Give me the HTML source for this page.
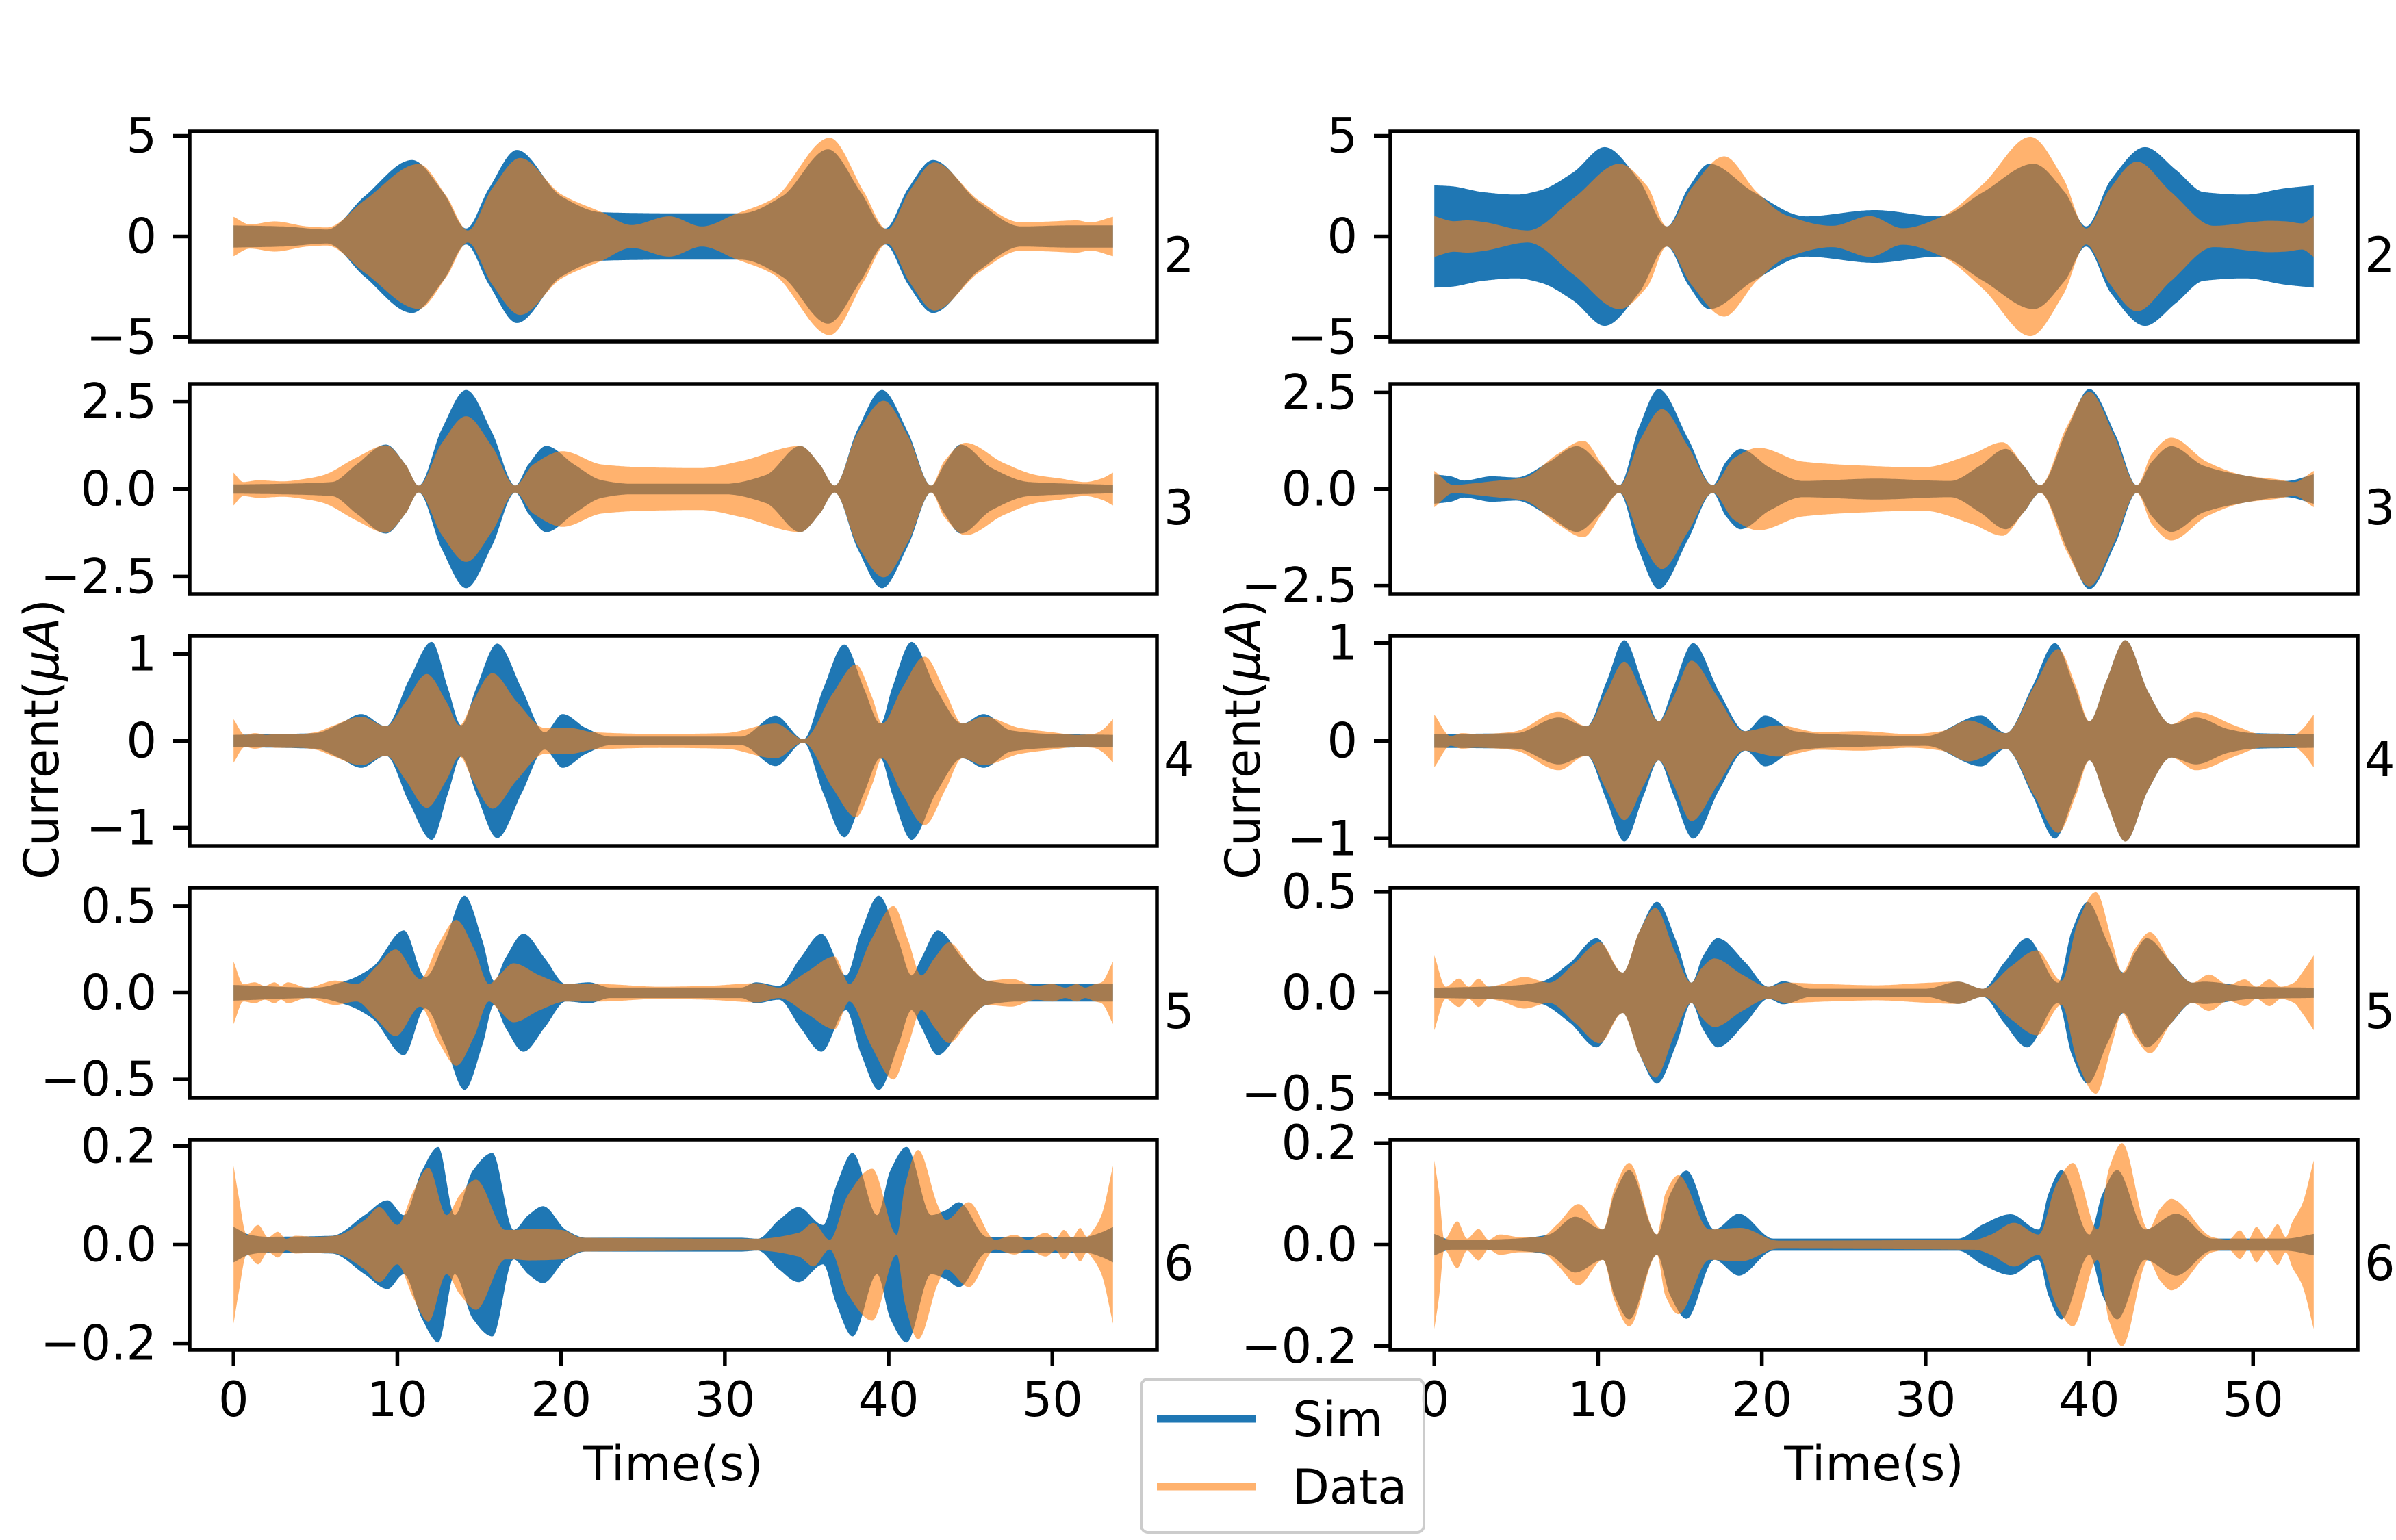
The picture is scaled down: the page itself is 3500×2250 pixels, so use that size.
<!DOCTYPE html>
<html><head><meta charset="utf-8">
<style>
html,body{margin:0;padding:0;background:#fff;}
svg{display:block;font-family:"DejaVu Sans","Liberation Sans",sans-serif;}
</style></head>
<body>
<svg id="fig" xmlns="http://www.w3.org/2000/svg" width="3500" height="2250" viewBox="0 0 3500 2250">
<rect width="3500" height="2250" fill="#fff"/>
</svg>
<script>
// ---- data: envelope knots [time(s), amplitude] ----
const simL1=[[0,0.55],[3,0.5],[5.7,0.35],[8,2.0],[10.9,3.8],[12.8,2.2],[14.2,0.4],[15.6,2.4],[17.3,4.3],[20,2.0],[22.5,1.2],[26.6,1.15],[31,1.15],[33.5,2.0],[36.3,4.33],[38.3,2.2],[39.8,0.4],[41.2,2.4],[42.7,3.8],[45.5,1.7],[48.1,0.5],[51,0.55],[53.7,0.55]];
const datL1=[[0,0.98],[1,0.6],[2.5,0.75],[4.5,0.5],[5.7,0.45],[8,1.8],[11.3,3.6],[13,2.0],[14.3,0.3],[15.8,2.4],[17.5,3.9],[20,2.1],[22.5,1.2],[24.3,0.57],[26.6,1.0],[28.6,0.5],[30.6,1.1],[33,1.9],[36.4,4.9],[38.5,2.2],[39.9,0.35],[41.3,2.3],[42.8,3.68],[45.5,1.8],[48.1,0.7],[50,0.75],[51.5,0.8],[52.3,0.7],[53.7,0.98]];
const simL2=[[0,0.13],[3,0.15],[6,0.2],[7.5,0.7],[9.3,1.27],[10.5,0.7],[11.3,0.1],[12.7,1.7],[14.2,2.83],[15.8,1.6],[17.2,0.1],[18,0.7],[19.1,1.23],[20.8,0.7],[22.5,0.25],[24.3,0.15],[30,0.15],[32.5,0.4],[34.6,1.23],[35.8,0.7],[36.7,0.1],[38.1,1.7],[39.6,2.83],[41.2,1.6],[42.6,0.1],[43.4,0.7],[44.4,1.27],[46.3,0.6],[48.6,0.2],[53.7,0.12]];
const datL2=[[0,0.47],[0.6,0.2],[1.5,0.25],[3,0.22],[4.5,0.3],[5.5,0.4],[7.5,0.9],[9.3,1.25],[10.5,0.7],[11.3,0.1],[12.7,1.3],[14.2,2.08],[15.8,1.2],[17.2,0.1],[18.3,0.7],[20.1,1.08],[22.5,0.7],[25.2,0.62],[28.5,0.6],[31,0.8],[34.6,1.23],[35.8,0.7],[36.7,0.1],[38.1,1.6],[39.7,2.52],[41.2,1.5],[42.6,0.1],[43.4,0.8],[44.7,1.32],[47,0.75],[49,0.4],[50.5,0.3],[52,0.2],[53,0.3],[53.7,0.47]];
const simL3=[[0,0.07],[5,0.09],[6.5,0.2],[7.8,0.31],[9.3,0.17],[10.7,0.7],[12.1,1.14],[13.1,0.6],[13.9,0.18],[14.8,0.6],[16.1,1.12],[17.6,0.6],[19,0.1],[20.1,0.31],[21.5,0.15],[23,0.05],[31,0.05],[33.1,0.29],[34.8,0.02],[36,0.6],[37.3,1.11],[38.5,0.6],[39.5,0.2],[40.2,0.6],[41.4,1.14],[42.9,0.6],[44.5,0.2],[45.8,0.31],[47.5,0.12],[50,0.08],[53.7,0.07]];
const datL3=[[0,0.25],[0.7,0.07],[1.3,0.09],[2,0.07],[2.6,0.08],[4,0.08],[5,0.1],[6,0.17],[7.8,0.28],[9.3,0.17],[10.5,0.45],[11.8,0.77],[13,0.45],[13.8,0.18],[14.6,0.45],[15.8,0.78],[17.3,0.45],[19,0.15],[20.5,0.15],[22,0.1],[26,0.08],[30,0.09],[33.1,0.2],[34.8,0.02],[36.6,0.55],[38,0.88],[39,0.5],[39.6,0.2],[40.8,0.6],[42.2,0.97],[43.5,0.55],[44.5,0.2],[45.8,0.28],[48,0.15],[50,0.1],[51.5,0.07],[52.5,0.08],[53,0.12],[53.7,0.25]];
const simL4=[[0,0.045],[5,0.03],[6.9,0.07],[8.5,0.15],[10.4,0.36],[11.7,0.09],[12.9,0.3],[14.1,0.56],[15.2,0.3],[15.9,0.07],[16.6,0.2],[17.7,0.34],[19,0.2],[20.3,0.05],[21.7,0.06],[23,0.03],[31,0.03],[31.9,0.06],[33.3,0.04],[34.6,0.2],[35.9,0.34],[37.4,0.1],[38.3,0.35],[39.4,0.56],[40.6,0.3],[41.4,0.1],[42,0.2],[43,0.36],[44.5,0.2],[46,0.07],[48,0.05],[53.7,0.05]];
const datL4=[[0,0.18],[0.6,0.05],[1.3,0.06],[1.9,0.04],[2.5,0.06],[2.9,0.04],[3.3,0.06],[4.5,0.03],[6.2,0.07],[7.5,0.05],[8.7,0.15],[9.9,0.25],[11.4,0.08],[12.5,0.28],[13.6,0.42],[14.7,0.25],[15.6,0.05],[16.2,0.1],[17.1,0.17],[18.7,0.1],[20.3,0.05],[22.4,0.05],[26,0.035],[29,0.04],[32,0.055],[33.3,0.03],[35,0.12],[36.7,0.21],[37.6,0.05],[38.9,0.3],[40.3,0.5],[41.2,0.3],[42,0.1],[42.8,0.2],[43.7,0.29],[45,0.15],[46,0.07],[47.5,0.08],[49,0.04],[50,0.05],[50.8,0.03],[51.5,0.05],[52,0.03],[52.6,0.05],[53,0.06],[53.7,0.18]];
const simL5=[[0,0.036],[1,0.02],[2,0.016],[6,0.018],[8,0.06],[9.4,0.09],[10.4,0.06],[11.5,0.15],[12.5,0.198],[13.5,0.06],[14.6,0.15],[15.8,0.186],[17.1,0.03],[18,0.06],[18.9,0.078],[20.3,0.03],[21.5,0.014],[31,0.014],[32,0.012],[33.3,0.05],[34.5,0.076],[36,0.04],[36.8,0.12],[37.8,0.186],[39.3,0.06],[40.1,0.15],[41.1,0.198],[42.6,0.06],[43.5,0.07],[44.3,0.086],[46,0.016],[52,0.016],[53,0.025],[53.7,0.036]];
const datL5=[[0,0.16],[0.3,0.1],[0.8,0.02],[1.5,0.04],[2.1,0.015],[2.7,0.026],[3.2,0.012],[3.8,0.018],[5,0.016],[6.2,0.018],[8,0.05],[8.9,0.076],[10,0.04],[11,0.11],[11.9,0.156],[13,0.06],[13.8,0.1],[14.8,0.132],[16.6,0.03],[17.2,0.03],[18,0.032],[20,0.03],[21.3,0.014],[32,0.012],[34.5,0.024],[35.4,0.044],[36.4,0.01],[37.5,0.1],[39,0.154],[40.5,0.02],[41,0.12],[41.8,0.192],[43,0.08],[43.5,0.05],[44.9,0.086],[46.5,0.01],[47.7,0.02],[48.5,0.01],[49.6,0.024],[50.2,0.012],[50.7,0.03],[51.2,0.014],[51.7,0.034],[52.1,0.016],[52.5,0.03],[53,0.06],[53.7,0.16]];
const simR1=[[0,2.54],[1,2.5],[3,2.2],[5,2.08],[6.5,2.3],[8.5,3.2],[10.4,4.44],[12.5,2.8],[14.2,0.5],[15.5,2.4],[16.8,3.61],[19.5,2.2],[22.7,1.0],[26.9,1.31],[30.8,1.0],[33.5,2.2],[36.6,3.61],[38.5,2.2],[39.8,0.5],[41.3,2.8],[43.4,4.44],[45.3,3.3],[47,2.2],[49.5,2.08],[52,2.4],[53.7,2.54]];
const datR1=[[0,1.01],[1.2,0.76],[2,0.8],[3,0.72],[5.7,0.3],[8.5,1.9],[11.3,3.61],[13,2.5],[14.2,0.5],[15.7,2.4],[17.7,3.98],[19.7,2.2],[21.5,1.05],[24.3,0.53],[26.6,1.01],[28.6,0.41],[31,0.99],[33.5,2.6],[36.4,4.95],[38.4,2.9],[39.8,0.4],[41.2,2.3],[42.9,3.72],[45,2.2],[47.6,0.53],[50,0.72],[51,0.78],[52,0.75],[53,0.65],[53.7,1.01]];
const simR2=[[0,0.38],[1,0.33],[1.8,0.22],[3.5,0.33],[5,0.3],[7,0.7],[8.7,1.11],[10.2,0.6],[11.3,0.1],[12.5,1.6],[13.7,2.59],[15.5,1.3],[17,0.1],[17.8,0.7],[18.7,1.04],[20.5,0.55],[22.5,0.21],[27,0.27],[31.5,0.21],[33.3,0.6],[34.9,1.04],[36,0.6],[37,0.1],[38.7,1.6],[40,2.59],[41.6,1.4],[42.9,0.1],[43.8,0.7],[45,1.11],[47,0.6],[49.5,0.35],[52,0.21],[53.7,0.38]];
const datR2=[[0,0.47],[1.2,0.1],[2,0.13],[3.5,0.2],[5.5,0.3],[7.5,0.9],[9.1,1.25],[10.3,0.6],[11.3,0.1],[12.6,1.3],[13.9,2.07],[15.5,1.1],[17,0.1],[18.3,0.8],[19.8,1.07],[22.5,0.71],[26,0.61],[29.8,0.56],[32.8,0.9],[34.7,1.21],[36,0.6],[37,0.1],[38.6,1.6],[40,2.52],[41.5,1.4],[42.9,0.1],[43.8,0.9],[45,1.33],[47.2,0.7],[49.5,0.35],[51.5,0.25],[52.5,0.18],[53.7,0.47]];
const simR3=[[0,0.07],[5,0.08],[7.6,0.24],[9.3,0.15],[10.5,0.6],[11.6,1.03],[12.8,0.55],[13.7,0.2],[14.6,0.55],[15.8,1.0],[17.4,0.5],[19,0.1],[20.2,0.26],[22,0.1],[24,0.07],[30,0.05],[33.4,0.26],[34.9,0.08],[36.5,0.55],[37.9,1.0],[39.1,0.55],[40,0.2],[41,0.6],[42.2,1.03],[43.6,0.5],[45,0.17],[46.5,0.24],[48.5,0.12],[50,0.08],[53.7,0.07]];
const datR3=[[0,0.27],[1,0.05],[1.7,0.08],[2.5,0.07],[4,0.08],[5,0.1],[7.6,0.3],[9.3,0.15],[10.5,0.5],[11.6,0.81],[12.8,0.45],[13.7,0.2],[14.6,0.45],[15.7,0.82],[17.3,0.45],[18.9,0.1],[21,0.16],[23.5,0.09],[26,0.1],[29,0.07],[31,0.1],[32.6,0.21],[34.9,0.08],[36.6,0.55],[38.1,0.94],[39.2,0.55],[40,0.2],[41,0.6],[42.2,1.03],[43.6,0.5],[45,0.17],[46.5,0.3],[49,0.15],[50.5,0.07],[51.5,0.07],[52.5,0.06],[53,0.12],[53.7,0.27]];
const simR4=[[0,0.025],[3,0.03],[5,0.037],[6.5,0.054],[8.3,0.15],[9.9,0.27],[11.5,0.1],[12.5,0.3],[13.6,0.45],[14.8,0.25],[15.7,0.05],[16.4,0.18],[17.3,0.27],[19,0.15],[20.4,0.03],[21.3,0.057],[23,0.02],[30,0.02],[32,0.055],[33.5,0.02],[34.8,0.15],[36.2,0.27],[38.1,0.05],[38.9,0.3],[39.9,0.45],[41.1,0.25],[42.1,0.1],[42.8,0.2],[43.5,0.27],[45,0.15],[46.3,0.05],[47,0.055],[50,0.03],[53.7,0.025]];
const datR4=[[0,0.185],[0.7,0.03],[1.5,0.07],[2.1,0.03],[2.7,0.07],[3.3,0.03],[4,0.04],[5.5,0.078],[7,0.05],[8.6,0.15],[10.1,0.25],[11.5,0.1],[12.5,0.3],[13.5,0.42],[14.7,0.2],[15.7,0.05],[16.3,0.12],[17.1,0.17],[18.8,0.09],[20.4,0.03],[21.5,0.05],[24,0.043],[27,0.037],[30,0.049],[32,0.055],[33.5,0.02],[35.2,0.13],[36.8,0.21],[38.3,0.06],[39.3,0.35],[40.4,0.5],[41.4,0.25],[42,0.1],[42.8,0.22],[43.7,0.3],[45,0.15],[46.3,0.05],[47.3,0.09],[48.5,0.04],[49.5,0.066],[50.2,0.03],[51,0.066],[51.7,0.03],[52.5,0.05],[53,0.1],[53.7,0.185]];
const simR5=[[0,0.021],[1,0.01],[3,0.01],[5,0.012],[7,0.02],[8.6,0.055],[10.3,0.03],[11,0.1],[11.9,0.147],[13.6,0.02],[14.4,0.1],[15.4,0.146],[17.1,0.03],[18.6,0.061],[20.7,0.012],[32,0.012],[33.5,0.04],[35.2,0.06],[36.9,0.03],[37.5,0.1],[38.3,0.147],[40,0.02],[40.8,0.1],[41.7,0.147],[43.4,0.03],[45.3,0.061],[47.5,0.012],[52,0.012],[53.7,0.021]];
const datR5=[[0,0.166],[0.3,0.1],[0.6,0.01],[1.4,0.046],[2,0.012],[2.7,0.031],[3.3,0.01],[4,0.02],[5.2,0.015],[6.5,0.015],[7.5,0.04],[8.8,0.08],[10.3,0.03],[11,0.11],[11.9,0.161],[13.6,0.02],[14.1,0.1],[14.9,0.137],[16.8,0.03],[18.7,0.033],[21,0.008],[33,0.01],[34,0.02],[35.4,0.043],[36.9,0.02],[38,0.12],[39,0.161],[40.5,0.03],[41.2,0.15],[42,0.2],[43.6,0.03],[44.3,0.07],[45,0.09],[47.5,0.015],[48.5,0.01],[49.2,0.028],[49.7,0.01],[50.2,0.035],[50.8,0.012],[51.5,0.04],[52,0.015],[52.4,0.045],[53,0.08],[53.7,0.166]];

const harmonics=["2","3","4","5","6"];
const yLimLeft=[5.22,3.0,1.21,0.606,0.213];
const yLimRight=[5.22,2.72,1.075,0.52,0.207];
const yTickVals=[[5,0,-5],[2.5,0,-2.5],[1,0,-1],[0.5,0,-0.5],[0.2,0,-0.2]];
const yTickLabels=[["5","0","\u22125"],["2.5","0.0","\u22122.5"],["1","0","\u22121"],["0.5","0.0","\u22120.5"],["0.2","0.0","\u22120.2"]];
const xTickVals=[0,10,20,30,40,50];
const xTickLabels=["0","10","20","30","40","50"];
const simLeft=[simL1,simL2,simL3,simL4,simL5], datLeft=[datL1,datL2,datL3,datL4,datL5];
const simRight=[simR1,simR2,simR3,simR4,simR5], datRight=[datR1,datR2,datR3,datR4,datR5];

// ---- layout ----
const NS="http://www.w3.org/2000/svg";
const svg=document.getElementById('fig');
const rowTop=[192,561,929,1297,1665], rowH=307;
const colX=[277,2031], colW=[1413,1413];
const xMin=-2.685, xMax=56.385;
const FS=70;

function el(tag,attrs,parent){const e=document.createElementNS(NS,tag);for(const k in attrs)e.setAttribute(k,attrs[k]);(parent||svg).appendChild(e);return e;}

function monotone(knots){
  const n=knots.length, xs=knots.map(k=>k[0]), ys=knots.map(k=>k[1]);
  const d=[],m=[];
  for(let i=0;i<n-1;i++)d.push((ys[i+1]-ys[i])/(xs[i+1]-xs[i]));
  m[0]=d[0];m[n-1]=d[n-2];
  for(let i=1;i<n-1;i++){ if(d[i-1]*d[i]<=0)m[i]=0; else {m[i]=2/(1/d[i-1]+1/d[i]);} }
  return function(x){
    let i=0; while(i<n-2&&x>xs[i+1])i++;
    const h=xs[i+1]-xs[i], t=Math.min(1,Math.max(0,(x-xs[i])/h));
    const t2=t*t,t3=t2*t;
    return (2*t3-3*t2+1)*ys[i]+(t3-2*t2+t)*h*m[i]+(-2*t3+3*t2)*ys[i+1]+(t3-t2)*h*m[i+1];
  };
}

function drawPanel(col,row){
  const x0=colX[col], w=colW[col], y0=rowTop[row];
  const lim=(col===0?yLimLeft:yLimRight)[row];
  const sx=t=>x0+(t-xMin)/(xMax-xMin)*w;
  const sy=v=>y0+rowH/2-v/lim*(rowH/2);
  const g=el('g',{});
  
  
  const cid='clip'+col+row;
  const cp=el('clipPath',{id:cid},g); el('rect',{x:x0,y:y0,width:w,height:rowH},cp);
  const series=[[ (col===0?simLeft:simRight)[row],'#1f77b4',1,'sim'],[(col===0?datLeft:datRight)[row],'#ff7f0e',0.6,'data']];
  for(const [knots,color,op,nm] of series){
    const f=monotone(knots);
    const tEnd=knots[knots.length-1][0];
    const top=[],bot=[];
    for(let t=0;t<=tEnd+1e-9;t+=0.05){const a=Math.max(0,f(t));top.push(sx(t).toFixed(1)+','+sy(a).toFixed(1));bot.push(sx(t).toFixed(1)+','+sy(-a).toFixed(1));}
    const p=el('polygon',{points:top.concat(bot.reverse()).join(' '),fill:color,'fill-opacity':op,'clip-path':'url(#'+cid+')'},g);
    
    
  }
  const fr=el('rect',{x:x0,y:y0,width:w,height:rowH,fill:'none',stroke:'#000','stroke-width':5.5},g);
  
  
  yTickVals[row].forEach((v,i)=>{
    const yy=sy(v);
    el('line',{x1:x0-24,x2:x0,y1:yy,y2:yy,stroke:'#000','stroke-width':5.5},g);
    const tx=el('text',{x:x0-48,y:yy,'font-size':FS,'text-anchor':'end','dominant-baseline':'central'},g);
    tx.textContent=yTickLabels[row][i];
    
    
  });
  const hl=el('text',{x:x0+w+10,y:y0+205,'font-size':FS},g);
  hl.textContent=harmonics[row];
  
  
  if(row===4){
    xTickVals.forEach((v,i)=>{
      const xx=sx(v);
      el('line',{x1:xx,x2:xx,y1:y0+rowH,y2:y0+rowH+24,stroke:'#000','stroke-width':5.5},g);
      const tx=el('text',{x:xx,y:2069,'font-size':FS,'text-anchor':'middle'},g);
      tx.textContent=xTickLabels[i];
      
      
    });
    const xl=el('text',{x:x0+w/2,y:2163,'font-size':FS,'text-anchor':'middle'},g);
    xl.textContent='Time(s)';
    
    
  }
}
for(let c=0;c<2;c++)for(let r=0;r<5;r++)drawPanel(c,r);

[[85,'left'],[1840,'right']].forEach(([bx,side])=>{
  const t=el('text',{x:bx,y:1080,'font-size':FS,'text-anchor':'middle',transform:'rotate(-90 '+bx+' 1080)'});
  
  
  t.appendChild(document.createTextNode('Current('));
  const it=el('tspan',{'font-style':'italic'},t); it.textContent='\u03bcA';
  t.appendChild(document.createTextNode(')'));
});

// legend
const lg=el('g',{});


el('rect',{x:1667,y:2015,width:413,height:224,rx:10,fill:'#fff','fill-opacity':0.8,stroke:'#cccccc','stroke-width':4},lg);
[['Sim','#1f77b4',1,2073],['Data','#ff7f0e',0.6,2172]].forEach(([lab,c,op,y])=>{
  const ln=el('line',{x1:1690,x2:1835,y1:y,y2:y,stroke:c,'stroke-opacity':op,'stroke-width':11},lg);
  
  
  const tx=el('text',{x:1888,y:y+25,'font-size':FS},lg);
  tx.textContent=lab;
  
  
});
</script>
</body></html>
